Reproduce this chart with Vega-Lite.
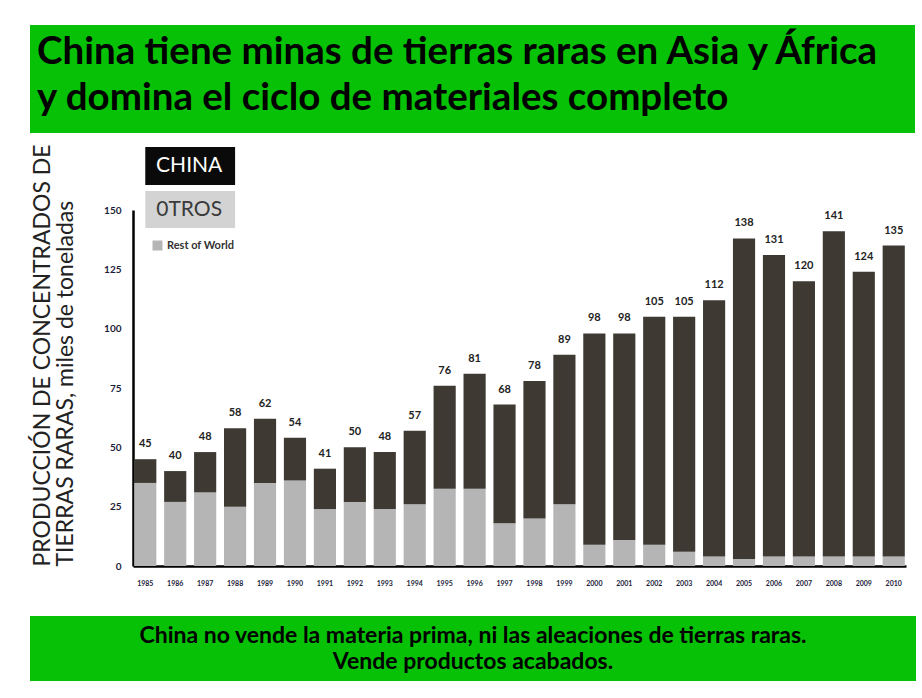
{
  "$schema": "https://vega.github.io/schema/vega-lite/v6.json",
  "background": "white",
  "padding": {"left": 30, "top": 25, "right": 5, "bottom": 5},
  "config": {"view": {"stroke": null}, "font": "Lato"},
  "datasets": {
    "production": [
      {"year": "1985", "total": 45, "rest": 35},
      {"year": "1986", "total": 40, "rest": 27},
      {"year": "1987", "total": 48, "rest": 31},
      {"year": "1988", "total": 58, "rest": 25},
      {"year": "1989", "total": 62, "rest": 35},
      {"year": "1990", "total": 54, "rest": 36},
      {"year": "1991", "total": 41, "rest": 24},
      {"year": "1992", "total": 50, "rest": 27},
      {"year": "1993", "total": 48, "rest": 24},
      {"year": "1994", "total": 57, "rest": 26},
      {"year": "1995", "total": 76, "rest": 32.5},
      {"year": "1996", "total": 81, "rest": 32.5},
      {"year": "1997", "total": 68, "rest": 18},
      {"year": "1998", "total": 78, "rest": 20},
      {"year": "1999", "total": 89, "rest": 26},
      {"year": "2000", "total": 98, "rest": 9},
      {"year": "2001", "total": 98, "rest": 11},
      {"year": "2002", "total": 105, "rest": 9},
      {"year": "2003", "total": 105, "rest": 6},
      {"year": "2004", "total": 112, "rest": 4},
      {"year": "2005", "total": 138, "rest": 3},
      {"year": "2006", "total": 131, "rest": 4},
      {"year": "2007", "total": 120, "rest": 4},
      {"year": "2008", "total": 141, "rest": 4},
      {"year": "2009", "total": 124, "rest": 4},
      {"year": "2010", "total": 135, "rest": 4}
    ]
  },
  "spacing": 30,
  "vconcat": [
    {
      "spacing": 10,
      "vconcat": [
        {
          "width": 885,
          "height": 108,
          "view": {"fill": "#06c106", "stroke": null},
          "data": {"values": [
            {"row": 1, "line": "China tiene minas de tierras raras en Asia y África"},
            {"row": 2, "line": "y domina el ciclo de materiales completo"}
          ]},
          "mark": {"type": "text", "align": "left", "baseline": "alphabetic", "fontSize": 38.5, "fontWeight": "bold", "color": "#000000", "dx": 7},
          "encoding": {
            "x": {"datum": 0, "type": "quantitative", "scale": {"domain": [0, 1]}, "axis": null},
            "y": {"field": "row", "type": "ordinal", "axis": null, "scale": {"type": "point", "padding": 0.674, "align": 0.63}},
            "text": {"field": "line"}
          }
        },
        {
          "spacing": 0,
          "hconcat": [
            {
              "width": 1,
              "height": 356,
              "data": {"values": [{"t": ""}]},
              "mark": {"type": "text"},
              "encoding": {"text": {"field": "t"}}
            },
            {
              "width": 773,
              "height": 356,
              "data": {"name": "production"},
              "encoding": {
                "x": {
                  "field": "year",
                  "type": "ordinal",
                  "scale": {"paddingInner": 0.26, "paddingOuter": 0.04},
                  "axis": {
                    "title": null,
                    "labelAngle": 0,
                    "labelFontSize": 7,
                    "labelFontWeight": "bold",
                    "labelColor": "#1c1c3a",
                    "labelPadding": 13,
                    "ticks": false,
                    "domainColor": "#000000",
                    "domainWidth": 2.5
                  }
                }
              },
              "layer": [
                {
                  "mark": {"type": "bar"},
                  "encoding": {
                    "y": {
                      "field": "rest",
                      "type": "quantitative",
                      "scale": {"domain": [0, 150], "nice": false, "zero": true},
                      "axis": {
                        "values": [0, 25, 50, 75, 100, 125, 150],
                        "grid": false,
                        "ticks": false,
                        "labelFontSize": 10,
                        "labelFontWeight": "bold",
                        "labelColor": "#1c1c3a",
                        "labelPadding": 12,
                        "domainColor": "#000000",
                        "domainWidth": 2.5,
                        "title": ["PRODUCCIÓN DE CONCENTRADOS DE", "TIERRAS RARAS, miles de toneladas"],
                        "titleFontSize": 23,
                        "titleFontWeight": "normal",
                        "titleColor": "#222222",
                        "titleAnchor": "start",
                        "titleLineHeight": 23,
                        "titlePadding": 26
                      }
                    },
                    "color": {
                      "datum": "Rest of World",
                      "scale": {"domain": ["Rest of World", "China"], "range": ["#b5b5b5", "#3e3a33"]},
                      "legend": {
                        "title": null,
                        "values": ["Rest of World"],
                        "orient": "none",
                        "legendX": 122,
                        "legendY": 215,
                        "padding": 0,
                        "symbolType": "square",
                        "symbolSize": 100,
                        "symbolStrokeWidth": 0,
                        "labelFontSize": 11,
                        "labelFontWeight": "bold",
                        "labelColor": "#333333",
                        "labelOffset": 4
                      }
                    }
                  }
                },
                {
                  "mark": {"type": "bar"},
                  "encoding": {
                    "y": {"field": "rest", "type": "quantitative", "scale": {"domain": [0, 150], "nice": false}},
                    "y2": {"field": "total"},
                    "color": {"datum": "China"}
                  }
                },
                {
                  "mark": {"type": "text", "baseline": "alphabetic", "dy": -12, "fontSize": 11, "fontWeight": "bold", "color": "#222222"},
                  "encoding": {
                    "y": {"field": "total", "type": "quantitative", "scale": {"domain": [0, 150], "nice": false}},
                    "text": {"field": "total", "type": "quantitative"}
                  }
                },
                {
                  "data": {"values": [{"label": "CHINA"}]},
                  "mark": {"type": "rect", "color": "#0a0a0a"},
                  "encoding": {
                    "x": {"datum": "1985", "type": "ordinal", "bandPosition": 0.5},
                    "x2": {"datum": "1988", "bandPosition": 0.5},
                    "y": {"datum": 176.5, "type": "quantitative", "scale": {"domain": [0, 150], "nice": false}},
                    "y2": {"datum": 160.5}
                  }
                },
                {
                  "data": {"values": [{"label": "0TROS"}]},
                  "mark": {"type": "rect", "color": "#d3d3d3"},
                  "encoding": {
                    "x": {"datum": "1985", "type": "ordinal", "bandPosition": 0.5},
                    "x2": {"datum": "1988", "bandPosition": 0.5},
                    "y": {"datum": 158, "type": "quantitative", "scale": {"domain": [0, 150], "nice": false}},
                    "y2": {"datum": 142.4}
                  }
                },
                {
                  "data": {"values": [{"label": "CHINA", "fg": "white", "v": 168.5}, {"label": "0TROS", "fg": "dark", "v": 150.2}]},
                  "mark": {"type": "text", "align": "center", "baseline": "middle", "fontSize": 21},
                  "encoding": {
                    "x": {"datum": "1986", "type": "ordinal", "bandPosition": 1.13},
                    "y": {"field": "v", "type": "quantitative", "scale": {"domain": [0, 150], "nice": false}},
                    "text": {"field": "label"},
                    "fill": {"field": "fg", "type": "nominal", "scale": {"domain": ["white", "dark"], "range": ["#ffffff", "#3a3a3a"]}, "legend": null}
                  }
                }
              ]
            }
          ]
        }
      ]
    },
    {
      "width": 886,
      "height": 65,
      "view": {"fill": "#06c106", "stroke": null},
      "data": {"values": [
        {"row": 1, "line": "China no vende la materia prima, ni las aleaciones de tierras raras."},
        {"row": 2, "line": "Vende productos acabados."}
      ]},
      "mark": {"type": "text", "align": "center", "baseline": "alphabetic", "fontSize": 23, "fontWeight": "bold", "color": "#000000"},
      "encoding": {
        "y": {"field": "row", "type": "ordinal", "axis": null, "scale": {"type": "point", "padding": 0.75, "align": 0.7}},
        "text": {"field": "line"}
      }
    }
  ]
}
